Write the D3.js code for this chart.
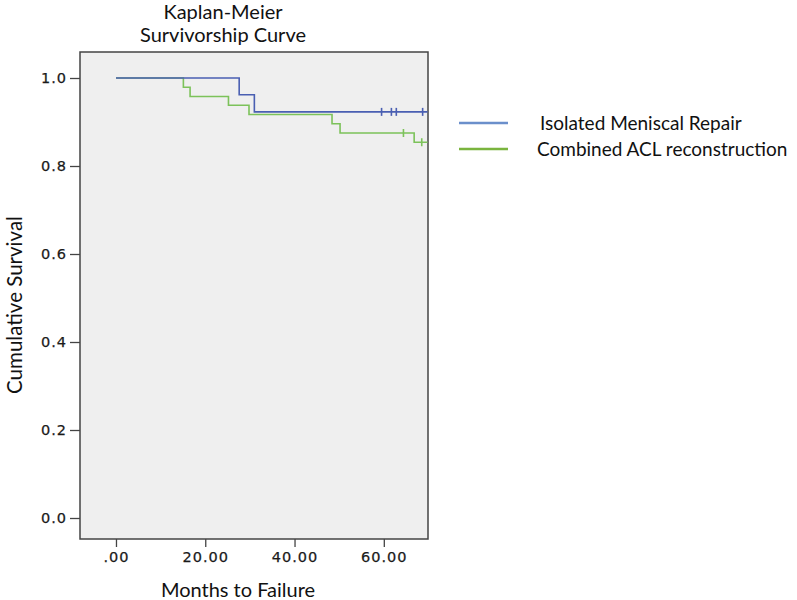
<!DOCTYPE html>
<html>
<head>
<meta charset="utf-8">
<script src="https://cdn.jsdelivr.net/npm/d3@7"></script>
<style>
body { margin:0; background:#fff; }
svg { display:block; }
.lbl { font-family: Lato, "Open Sans", sans-serif; fill:#111; }
</style>
</head>
<body>
<svg id="chart" width="797" height="600"></svg>
<script>
// Data
const isolatedTimes  = [0, 27.6, 31.0];
const isolatedValues = [1.0, 0.962, 0.923];
const isolatedEnd    = 69.8;
const isolatedCensor = [59.5, 61.7, 62.8, 68.7];

const combinedTimes  = [0, 15.1, 16.6, 25.2, 29.8, 48.4, 50.2, 66.8];
const combinedValues = [1.0, 0.979, 0.958, 0.938, 0.917, 0.896, 0.875, 0.854];
const combinedEnd    = 69.8;
const combinedCensor = [64.4, 68.5];

const xTicks = [0, 20, 40, 60];
const xTickLabels = [".00", "20.00", "40.00", "60.00"];
const yTicks = [0, 0.2, 0.4, 0.6, 0.8, 1.0];
const seriesNames = ["Isolated Meniscal Repair", "Combined ACL reconstruction"];
const seriesColors = ["#4a5fb2", "#7cc25a"];
const legendColors = ["#6b8fcb", "#7ab43e"];

const svg = d3.select("#chart");
const L = 80, R = 428, T = 52, B = 539;

const x = d3.scaleLinear().domain([-8.06, 69.9]).range([L, R]);
const y = d3.scaleLinear().domain([0, 1]).range([518, 78]);

// plot background
svg.append("rect").attr("x", L).attr("y", T).attr("width", R - L).attr("height", B - T)
  .attr("fill", "#efefef").attr("stroke", "#444").attr("stroke-width", 1.5);

function styleTicks(g) {
  g.select(".domain").remove();
  g.selectAll("line").attr("stroke", "#444").attr("stroke-width", 1.3);
  g.selectAll("text").attr("font-family", "DejaVu Sans, sans-serif").attr("font-size", 14.5)
    .style("letter-spacing", "1px").attr("fill", "#1a1a1a")
    .attr("stroke", "#1a1a1a").attr("stroke-width", 0.25);
}

// axes
const yAxis = d3.axisLeft(y).tickValues(yTicks).tickFormat(d3.format(".1f")).tickSize(10).tickPadding(3);
const gy = svg.append("g").attr("transform", `translate(${L},0)`).call(yAxis);
styleTicks(gy);

const xAxis = d3.axisBottom(x).tickValues(xTicks).tickFormat((d, i) => xTickLabels[i]).tickSize(8).tickPadding(5);
const gx = svg.append("g").attr("transform", `translate(0,${B})`).call(xAxis);
styleTicks(gx);

// curves
function stepData(times, values, end) {
  const d = times.map((t, i) => [t, values[i]]);
  d.push([end, values[values.length - 1]]);
  return d;
}
function valueAt(times, values, t) {
  let v = values[0];
  for (let i = 0; i < times.length; i++) if (times[i] <= t) v = values[i];
  return v;
}
const line = d3.line().x(d => x(d[0])).y(d => y(d[1])).curve(d3.curveStepAfter);

const series = [
  { times: combinedTimes, values: combinedValues, end: combinedEnd, censor: combinedCensor, color: seriesColors[1] },
  { times: isolatedTimes, values: isolatedValues, end: isolatedEnd, censor: isolatedCensor, color: seriesColors[0] }
];
series.forEach(s => {
  svg.append("path").attr("d", line(stepData(s.times, s.values, s.end)))
    .attr("fill", "none").attr("stroke", s.color).attr("stroke-width", 1.6);
  svg.selectAll(null).data(s.censor).enter().append("line")
    .attr("x1", d => x(d)).attr("x2", d => x(d))
    .attr("y1", d => y(valueAt(s.times, s.values, d)) - 4)
    .attr("y2", d => y(valueAt(s.times, s.values, d)) + 4)
    .attr("stroke", s.color).attr("stroke-width", 1.6);
});

// titles
svg.append("text").attr("class", "lbl").attr("x", 223).attr("y", 19).attr("text-anchor", "middle")
  .attr("font-size", 20).text("Kaplan-Meier");
svg.append("text").attr("class", "lbl").attr("x", 223).attr("y", 42).attr("text-anchor", "middle")
  .attr("font-size", 20).text("Survivorship Curve");
svg.append("text").attr("class", "lbl").attr("x", 238).attr("y", 597).attr("text-anchor", "middle")
  .attr("font-size", 20).text("Months to Failure");
svg.append("text").attr("class", "lbl").attr("transform", "translate(22,305) rotate(-90)")
  .attr("text-anchor", "middle").attr("font-size", 20.5).text("Cumulative Survival");

// legend
const legY = [123, 149];
const legX = [540, 537];
seriesNames.forEach((n, i) => {
  svg.append("line").attr("x1", 459).attr("x2", 508).attr("y1", legY[i]).attr("y2", legY[i])
    .attr("stroke", legendColors[i]).attr("stroke-width", 2.5);
  svg.append("text").attr("class", "lbl").attr("x", legX[i]).attr("y", legY[i] + 6.5)
    .attr("font-size", 19).text(n);
});
</script>
</body>
</html>
